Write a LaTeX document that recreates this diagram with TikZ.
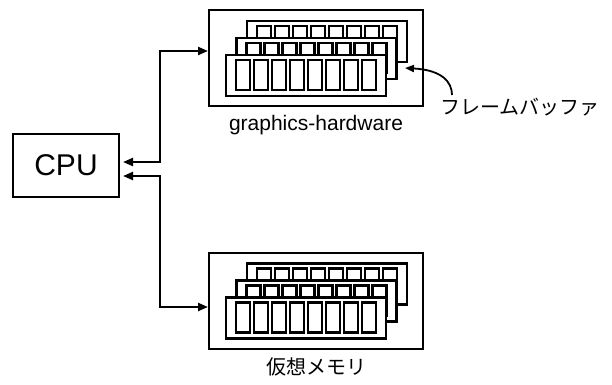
\documentclass[tikz,border=0pt]{standalone}
\usepackage{fontspec}
\setmainfont{Liberation Sans}
\newfontfamily\jpfont{Noto Sans CJK JP}
\usetikzlibrary{arrows.meta}

\tikzset{
  unitbox/.style={draw, line width=2pt, inner sep=0pt, fill=white},
  framebox/.style={draw, line width=2.2pt, fill=white},
  cellbox/.style={draw, line width=2.2pt},
  link/.style={line width=2.2pt,
    {Triangle[length=10pt,width=8pt]}-{Triangle[length=10pt,width=8pt]}},
  pointer/.style={line width=1.8pt, -{Triangle[length=9pt,width=7pt]}},
  caption/.style={inner sep=0pt, font=\fontsize{21}{25}\selectfont},
  jpcaption/.style={inner sep=0pt, font=\jpfont\fontsize{20}{24}\selectfont},
  % three stacked buffers, each with eight cells; origin = front buffer top-left
  framestack/.pic={
    \foreach \dx/\dy in {21/-34, 10.5/-17, 0/0} {
      \begin{scope}[shift={(\dx,\dy)}]
        \filldraw[framebox] (0,0) rectangle (160,41);
        \foreach \i in {0,...,7}
          \draw[cellbox] ({10+18*\i},5) rectangle ++(14,30);
      \end{scope}
    }
  }
}

\begin{document}
\begin{tikzpicture}[x=1pt,y=-1pt]
  \useasboundingbox (0,0) rectangle (612,384);

  % CPU
  \node[unitbox, minimum width=106pt, minimum height=63pt,
        font=\fontsize{30}{36}\selectfont] (cpu) at (66,165.5) {CPU};

  % graphics hardware with frame buffers
  \node[unitbox, minimum width=214pt, minimum height=96pt] (gfx) at (316,58) {};
  \pic at (226,55) {framestack};
  \node[caption] (gfxlabel) at (316,125) {graphics-hardware};

  % virtual memory
  \node[unitbox, minimum width=214pt, minimum height=96pt] (mem) at (316,300.5) {};
  \pic at (226,297.5) {framestack};
  \node[jpcaption] (memlabel) at (316,367) {仮想メモリ};

  % frame buffer label and pointer
  \node[jpcaption, anchor=north west] (fblabel) at (440,98) {フレームバッファ};
  \coordinate (fbtip) at (405,68);
  \draw[pointer] ([shift={(12,-3)}]fblabel.north west)
    .. controls (452,82) and (442,70) .. (fbtip);

  % buses
  \draw[link] ([shift={(3,-3.5)}]cpu.east) -| (160,51) -- ([yshift=7pt]gfx.west);
  \draw[link] ([shift={(3,10.5)}]cpu.east) -| (160,307) -- ([yshift=-6.5pt]mem.west);
\end{tikzpicture}
\end{document}
